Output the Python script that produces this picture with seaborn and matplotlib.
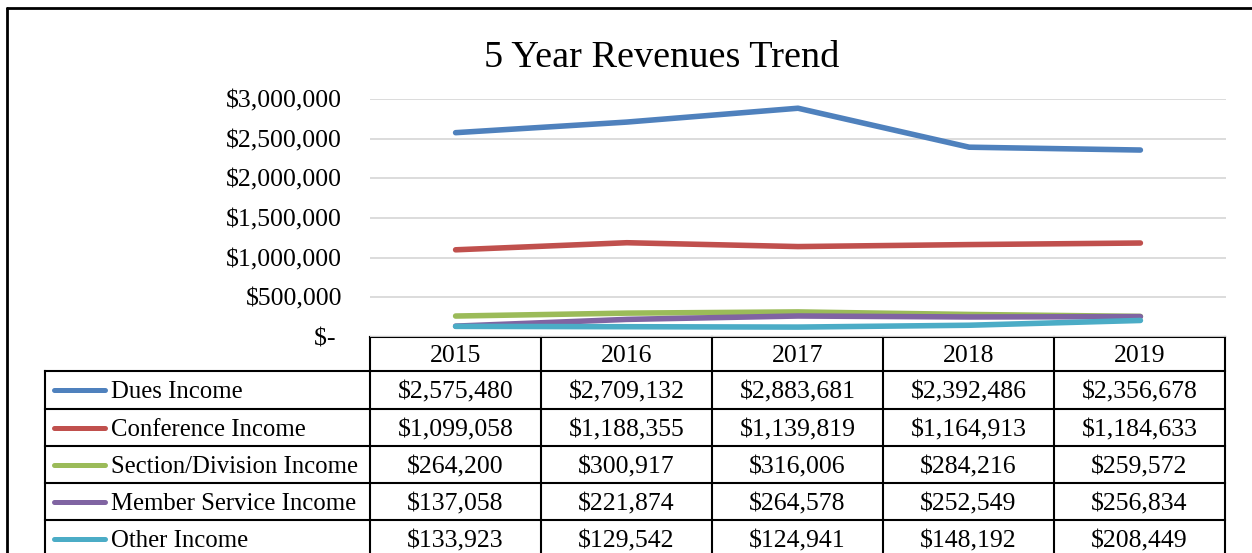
import numpy as np
import pandas as pd
import matplotlib
matplotlib.use("Agg")
import matplotlib.pyplot as plt
import seaborn as sns

# ---- data ----
years = ["2015", "2016", "2017", "2018", "2019"]
series_names = ["Dues Income", "Conference Income", "Section/Division Income",
                "Member Service Income", "Other Income"]
dues = [2575480, 2709132, 2883681, 2392486, 2356678]
conference = [1099058, 1188355, 1139819, 1164913, 1184633]
section = [264200, 300917, 316006, 284216, 259572]
member = [137058, 221874, 264578, 252549, 256834]
other = [133923, 129542, 124941, 148192, 208449]
yticks = [0, 500000, 1000000, 1500000, 2000000, 2500000, 3000000]
title = "5 Year Revenues Trend"

colors = ["#4F81BD", "#C0504D", "#9BBB59", "#8064A2", "#4BACC6"]
all_values = [dues, conference, section, member, other]

rows = []
for name, vals in zip(series_names, all_values):
    for i, (yr, v) in enumerate(zip(years, vals)):
        rows.append({"pos": i, "year": yr, "series": name, "value": v})
df = pd.DataFrame(rows)

sns.set_theme(style="white")
plt.rcParams["font.family"] = ["Liberation Serif", "DejaVu Serif"]

W, H = 1252, 553
fig = plt.figure(figsize=(W / 100, H / 100), dpi=100)
fig.patch.set_facecolor("white")

# plot area in pixels
px0, px1, py_top, py_bot = 370, 1226, 99, 337
ax = fig.add_axes([px0 / W, 1 - py_bot / H, (px1 - px0) / W, (py_bot - py_top) / H])
sns.lineplot(data=df, x="pos", y="value", hue="series", hue_order=series_names,
             palette=colors, linewidth=4.0, legend=False, ax=ax, sort=False,
             solid_capstyle="round")
ax.set_xlim(-0.5, len(years) - 0.5)
ax.set_ylim(0, max(yticks))
ax.set_yticks(yticks)
ax.set_yticklabels(["$- " if v == 0 else f"${v:,.0f}" for v in yticks])
ax.set_xticks([])
ax.set_xlabel("")
ax.set_ylabel("")
ax.tick_params(axis="y", length=0, pad=20, labelsize=18.5, labelcolor="black")
ax.grid(axis="y", color="#D9D9D9", linewidth=1.3)
ax.set_axisbelow(True)
for s in ax.spines.values():
    s.set_visible(False)
ax.patch.set_alpha(0)

fig.text(662 / W, 1 - 67 / H, title, ha="center", va="baseline", fontsize=27.5, color="black")

# overlay for border and data table (pixel coordinates)
oax = fig.add_axes([0, 0, 1, 1], zorder=-1)
oax.set_xlim(0, W)
oax.set_ylim(H, 0)
oax.axis("off")
oax.patch.set_alpha(0)

lk = dict(color="black", linewidth=1.5, solid_capstyle="projecting")
# outer chart border
oax.plot([6.5, 6.5], [8, H + 10], color="black", linewidth=2.0)
oax.plot([6.5, W + 10], [8, 8], color="black", linewidth=2.0)

col_edges = [370, 541, 712, 883, 1054, 1225]
left_edge = 45
row_edges = [371, 409, 446, 483, 520, 557]
hdr_top = 337

oax.plot([col_edges[0], col_edges[-1]], [hdr_top, hdr_top], **lk)
for y in row_edges[:-1]:
    oax.plot([left_edge, col_edges[-1]], [y, y], **lk)
oax.plot([left_edge, left_edge], [row_edges[0], H + 5], **lk)
for x in col_edges:
    oax.plot([x, x], [hdr_top, H + 5], **lk)

fs = 18.5
for j, yr in enumerate(years):
    cx = (col_edges[j] + col_edges[j + 1]) / 2
    oax.text(cx, (hdr_top + row_edges[0]) / 2, yr, ha="center", va="center_baseline",
             fontsize=fs, color="black")

for i, (name, vals, c) in enumerate(zip(series_names, all_values, colors)):
    cy = (row_edges[i] + row_edges[i + 1]) / 2
    oax.plot([54, 105], [cy, cy], color=c, linewidth=3.6, solid_capstyle="round")
    oax.text(111, cy, name, ha="left", va="center_baseline", fontsize=17.8, color="black")
    for j, v in enumerate(vals):
        cx = (col_edges[j] + col_edges[j + 1]) / 2
        oax.text(cx, cy, f"${v:,.0f}", ha="center", va="center_baseline",
                 fontsize=fs, color="black")

fig.savefig("out.png", dpi=100)
